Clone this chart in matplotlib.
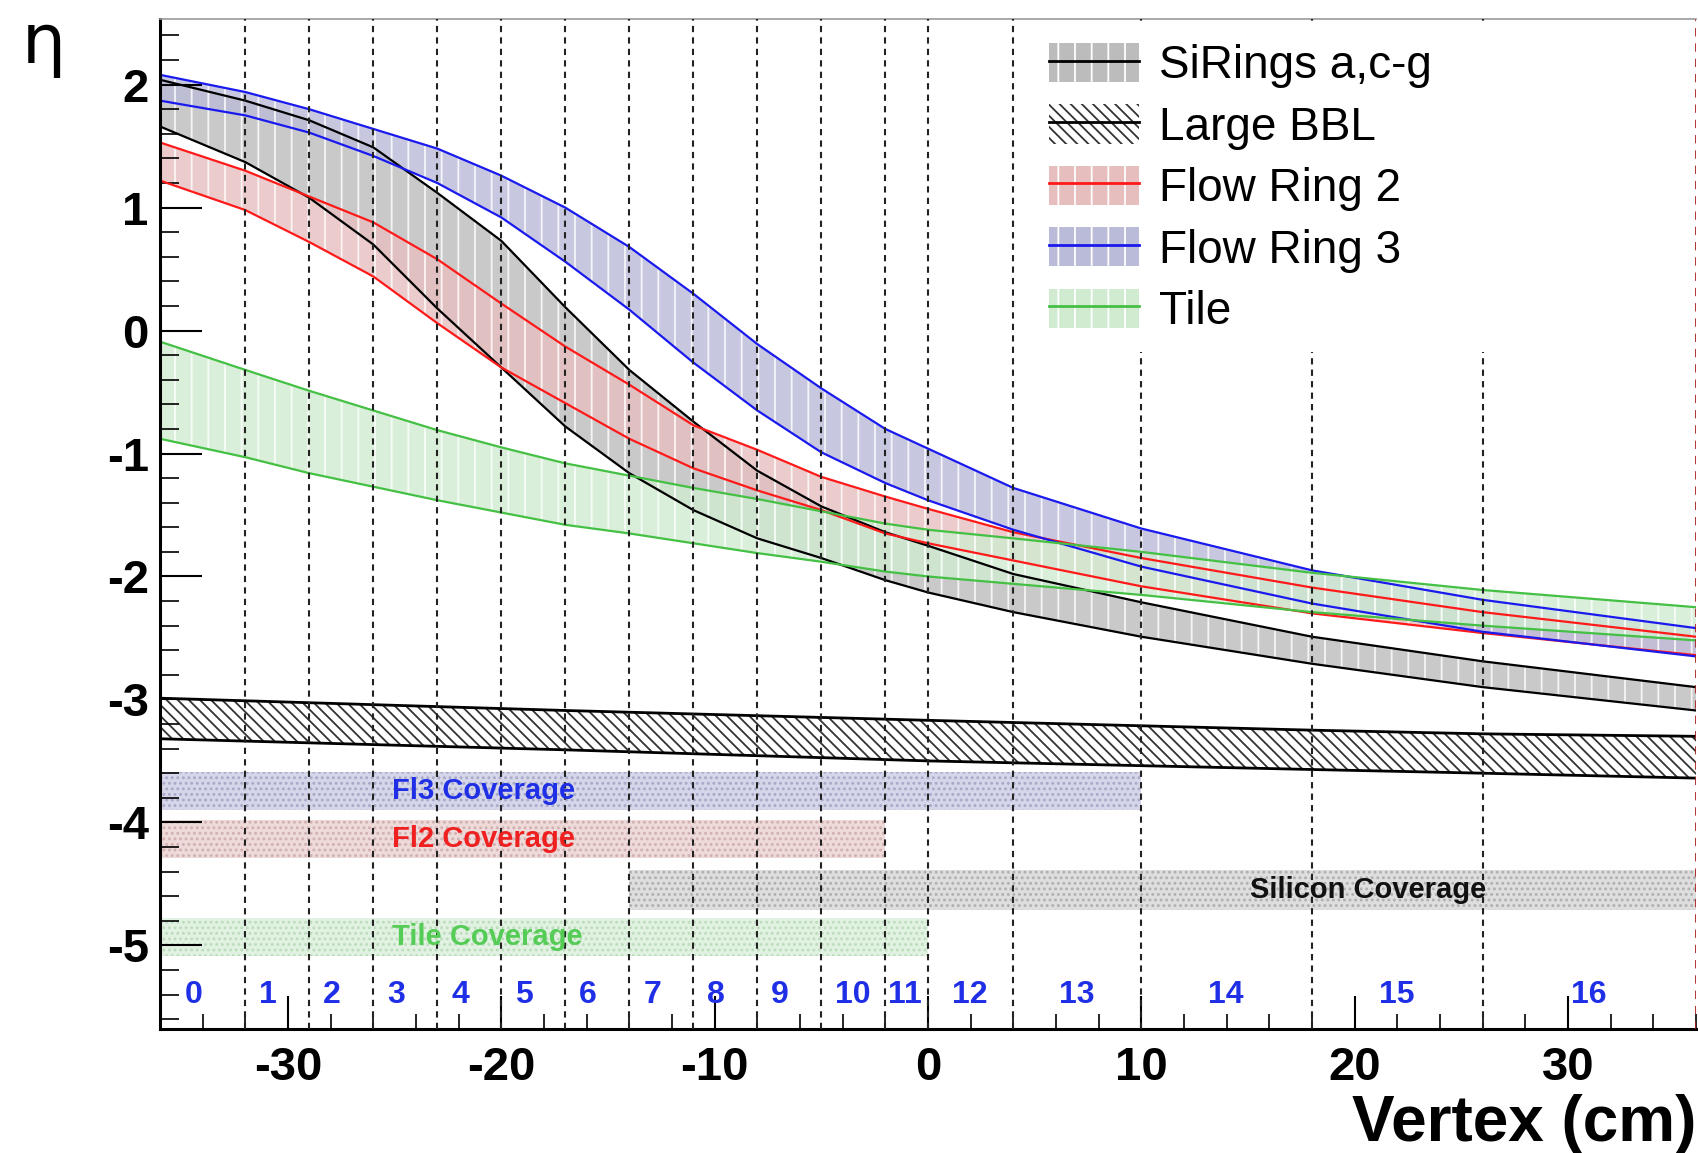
import numpy as np
import matplotlib.pyplot as plt
from matplotlib.patches import Patch
from matplotlib.lines import Line2D
from matplotlib.ticker import MultipleLocator

plt.rcParams['font.family'] = ['Liberation Sans', 'DejaVu Sans']
plt.rcParams['axes.unicode_minus'] = False
plt.rcParams['hatch.linewidth'] = 1.3

# vertex positions (cm) where the band edges were read
vertex = [-36, -32, -29, -26, -23, -20, -17, -14, -11, -8, -5, -2, 0, 4, 10, 18, 26, 36]

# SiRings a,c-g
si_hi = [2.04, 1.87, 1.71, 1.49, 1.12, 0.73, 0.19, -0.32, -0.74, -1.14, -1.43, -1.64, -1.75, -1.98, -2.21, -2.49, -2.69, -2.90]
si_lo = [1.66, 1.37, 1.08, 0.70, 0.18, -0.30, -0.78, -1.16, -1.46, -1.69, -1.85, -2.03, -2.13, -2.29, -2.49, -2.71, -2.90, -3.09]
# Flow Ring 2
fr2_hi = [1.53, 1.30, 1.09, 0.88, 0.58, 0.22, -0.13, -0.44, -0.77, -0.97, -1.19, -1.35, -1.45, -1.64, -1.85, -2.09, -2.29, -2.49]
fr2_lo = [1.22, 0.98, 0.72, 0.44, 0.06, -0.30, -0.59, -0.88, -1.12, -1.30, -1.46, -1.65, -1.73, -1.87, -2.08, -2.30, -2.46, -2.64]
# Flow Ring 3
fr3_hi = [2.08, 1.94, 1.80, 1.64, 1.48, 1.26, 1.00, 0.68, 0.30, -0.11, -0.47, -0.80, -0.96, -1.28, -1.61, -1.95, -2.19, -2.42]
fr3_lo = [1.87, 1.75, 1.61, 1.42, 1.20, 0.92, 0.56, 0.17, -0.26, -0.65, -0.99, -1.24, -1.38, -1.62, -1.92, -2.22, -2.45, -2.65]
# Tile
tile_hi = [-0.09, -0.32, -0.49, -0.65, -0.81, -0.95, -1.08, -1.18, -1.28, -1.37, -1.47, -1.57, -1.62, -1.69, -1.80, -1.97, -2.11, -2.25]
tile_lo = [-0.88, -1.03, -1.16, -1.27, -1.38, -1.48, -1.58, -1.65, -1.73, -1.81, -1.88, -1.96, -2.00, -2.06, -2.15, -2.29, -2.40, -2.52]

# Large BBL
bbl_x = [-36, -17, 0, 18, 26, 36]
bbl_hi = [-2.99, -3.09, -3.17, -3.25, -3.28, -3.30]
bbl_lo = [-3.32, -3.41, -3.50, -3.57, -3.60, -3.64]

# vertex bins
bin_edges = [-36, -32, -29, -26, -23, -20, -17, -14, -11, -8, -5, -2, 0, 4, 10, 18, 26, 36]
bin_labels = [str(i) for i in range(17)]

# coverage bars
cov_names = ['Fl3 Coverage', 'Fl2 Coverage', 'Silicon Coverage', 'Tile Coverage']
cov_xmin = [-36, -36, -14, -36]
cov_xmax = [10, -2, 36, 0]
cov_lo = [-3.90, -4.29, -4.71, -5.09]
cov_hi = [-3.59, -3.98, -4.39, -4.78]

fig = plt.figure(figsize=(16.98, 11.53), dpi=100)
ax = fig.add_axes([0.0942, 0.1076, 0.9046, 0.8755])

# band style: (fill, hatch colour, line colour)
bands = [
    (si_lo, si_hi, '#bcbcbc', 'white', 'black'),
    (fr2_lo, fr2_hi, '#e6bebe', 'white', '#ff1a1a'),
    (fr3_lo, fr3_hi, '#babbd8', 'white', '#1a1aee'),
    (tile_lo, tile_hi, '#d0ebd0', 'white', '#44c044'),
]
for lo, hi, fc, hc, lc in bands:
    ax.fill_between(vertex, lo, hi, facecolor=fc, edgecolor=hc, hatch='|',
                    linewidth=0, alpha=0.8, zorder=1)
    ax.plot(vertex, hi, color=lc, lw=1.6, zorder=2)
    ax.plot(vertex, lo, color=lc, lw=1.6, zorder=2)

ax.fill_between(bbl_x, bbl_lo, bbl_hi, facecolor='white', edgecolor='#333333',
                hatch='\\\\\\', linewidth=0, zorder=1)
ax.plot(bbl_x, bbl_hi, color='black', lw=2, zorder=2)
ax.plot(bbl_x, bbl_lo, color='black', lw=2, zorder=2)

cov_fill = ['#d6d6ea', '#efdada', '#dedede', '#e2f2e2']
cov_dots = ['#a8a8c8', '#d0b0b0', '#b0b0b0', '#bcdcbc']
cov_text = ['#1f2fe6', '#ee2020', '#111111', '#55cc55']
cov_tx = [-25.1, -25.1, 15.1, -25.1]
for i in range(len(cov_names)):
    ax.fill_between([cov_xmin[i], cov_xmax[i]], cov_lo[i], cov_hi[i],
                    facecolor=cov_fill[i], edgecolor=cov_dots[i], hatch='...',
                    linewidth=0, zorder=1)
    ax.text(cov_tx[i], (cov_lo[i] + cov_hi[i]) / 2, cov_names[i], color=cov_text[i],
            fontsize=21, fontweight='bold', ha='left', va='center', zorder=4)

# bin boundaries and numbers
for e in bin_edges[1:-1]:
    ax.axvline(e, color='#222222', lw=1.5, ls=(0, (3, 2.5)), zorder=3)
ax.axvline(bin_edges[-1], color='#aa2222', lw=2, ls=(0, (3, 2.5)), zorder=3)
for i, lab in enumerate(bin_labels):
    c = (bin_edges[i] + bin_edges[i + 1]) / 2
    ax.text(c - 0.85, -5.4, lab, color='#1f2fe6', fontsize=23, fontweight='bold',
            ha='left', va='center', zorder=4)

ax.set_xlim(-36, 36)
ax.set_ylim(-5.68, 2.53)
ax.set_xticks(range(-30, 31, 10))
ax.xaxis.set_minor_locator(MultipleLocator(2))
ax.set_yticks(range(-5, 3))
ax.yaxis.set_minor_locator(MultipleLocator(0.2))
ax.tick_params(axis='x', which='major', direction='in', length=24, width=1.5,
               labelsize=34, pad=12)
ax.tick_params(axis='x', which='minor', direction='in', length=11, width=1.2)
ax.tick_params(axis='y', which='major', direction='in', length=30, width=1.5,
               labelsize=34, pad=8)
ax.tick_params(axis='y', which='minor', direction='in', length=14, width=1.2)
for lbl in ax.get_xticklabels() + ax.get_yticklabels():
    lbl.set_fontweight('bold')

ax.spines['left'].set_linewidth(2.2)
ax.spines['bottom'].set_linewidth(2.2)
ax.spines['top'].set_color('#999999')
ax.spines['top'].set_linewidth(1.2)
ax.spines['right'].set_visible(False)

handles = [
    (Patch(facecolor='#bcbcbc', edgecolor='white', hatch='|', lw=0), Line2D([], [], color='black', lw=2)),
    (Patch(facecolor='white', edgecolor='#333333', hatch='\\\\\\', lw=0), Line2D([], [], color='black', lw=2)),
    (Patch(facecolor='#e6bebe', edgecolor='white', hatch='|', lw=0), Line2D([], [], color='#ff1a1a', lw=2)),
    (Patch(facecolor='#babbd8', edgecolor='white', hatch='|', lw=0), Line2D([], [], color='#1a1aee', lw=2)),
    (Patch(facecolor='#d0ebd0', edgecolor='white', hatch='|', lw=0), Line2D([], [], color='#44c044', lw=2)),
]
labels = ['SiRings a,c-g', 'Large BBL', 'Flow Ring 2', 'Flow Ring 3', 'Tile']
leg = ax.legend(handles, labels, loc='upper left', bbox_to_anchor=(0.567, 0.6, 0.344, 0.395),
                mode='expand', fontsize=33, frameon=True, fancybox=False, framealpha=1,
                edgecolor='none', facecolor='white', handlelength=1.95, handleheight=0.94,
                handletextpad=0.45, labelspacing=0.35, borderpad=0.4, borderaxespad=0)
leg.set_zorder(10)

fig.text(44 / 1698, 1 - 44 / 1153, '\u03b7', fontsize=50, ha='center', va='center',
         family=['DejaVu Sans'])
fig.text(1696 / 1698, 1 - 1124 / 1153, 'Vertex (cm)', fontsize=46, fontweight='bold',
         ha='right', va='center')

fig.savefig('out.png', dpi=100)
